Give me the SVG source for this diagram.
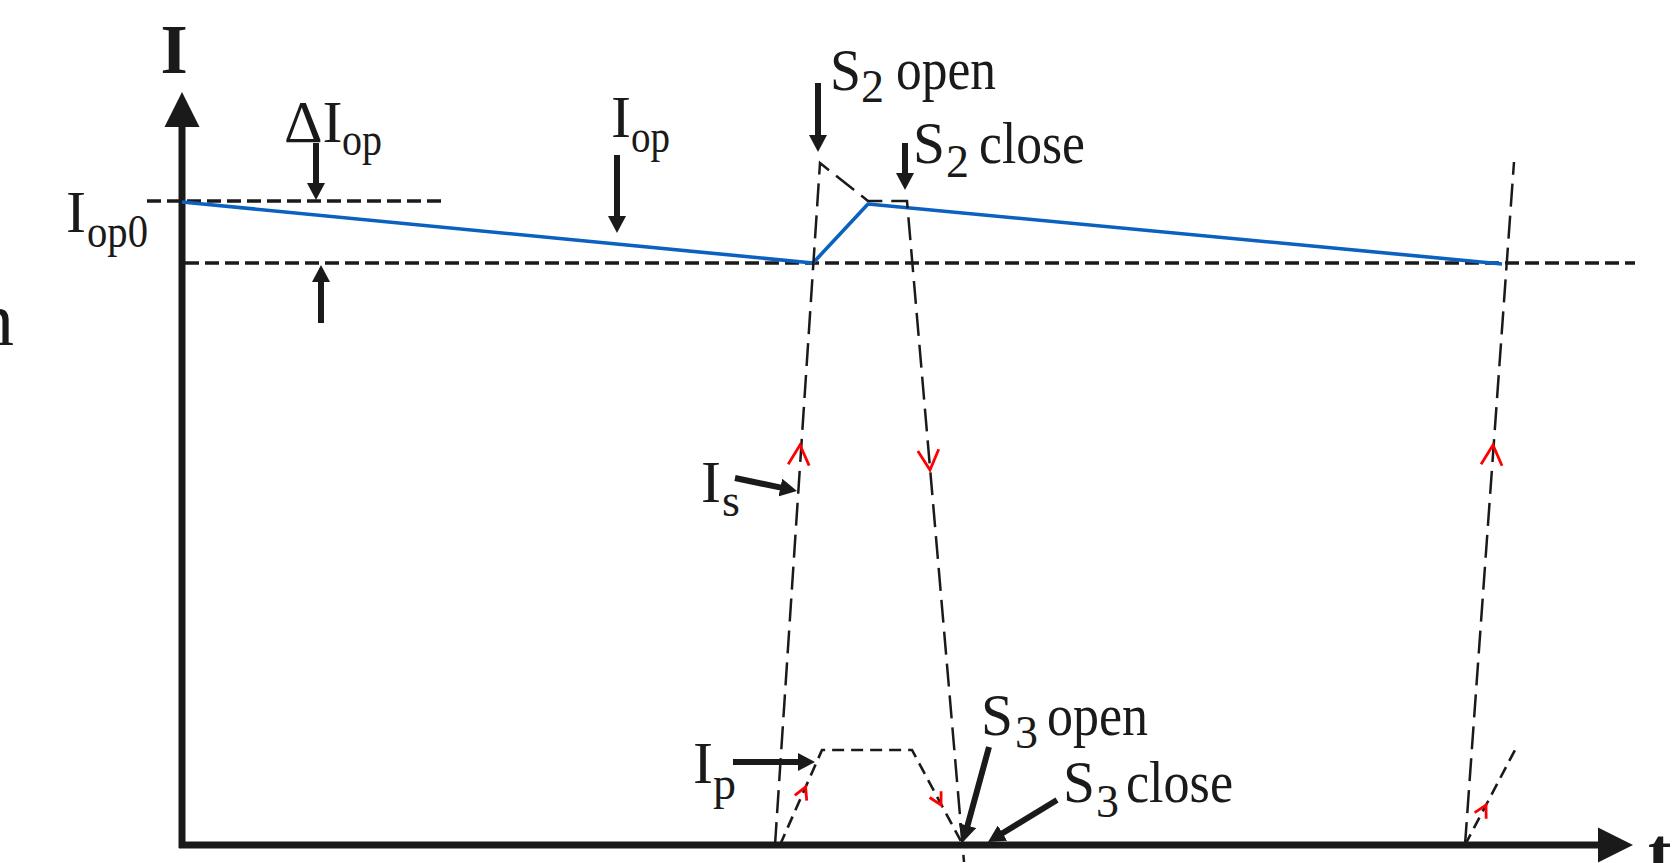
<svg xmlns="http://www.w3.org/2000/svg" width="1679" height="863" viewBox="0 0 1679 863">
<style>
.lbl{font-family:"Liberation Serif","Times New Roman",serif;font-size:60px;fill:#1a1a1a}
.sub{font-size:46px}
.bold{font-weight:bold;font-size:70px}
.axis{stroke:#1a1a1a;stroke-width:7;fill:none}
.dthick{stroke:#1a1a1a;stroke-width:3.3;stroke-dasharray:14 6;fill:none}
.dthin{stroke:#1a1a1a;stroke-width:2.5;stroke-dasharray:23 9;fill:none}
.dshort{stroke:#1a1a1a;stroke-width:2.6;stroke-dasharray:12 7;fill:none}
.blue{stroke:#0a61c0;stroke-width:3.6;fill:none;stroke-linejoin:round}
.ptr{stroke:#1a1a1a;stroke-width:6;fill:none;marker-end:url(#hd)}
.rbig{stroke:none;fill:none;marker-end:url(#rcb)}
.rsm{stroke:none;fill:none;marker-end:url(#rcs)}
</style>
<defs>
<marker id="hd" markerUnits="userSpaceOnUse" viewBox="0 0 17 18" markerWidth="17" markerHeight="18" refX="2" refY="9" orient="auto"><path d="M0,0 L17,9 L0,18 z" fill="#1a1a1a"/></marker>
<marker id="rcb" markerUnits="userSpaceOnUse" viewBox="-23 -13 26 26" markerWidth="26" markerHeight="26" refX="0" refY="0" orient="auto"><path d="M-20,-10.5 L0,0 L-20,10.5" stroke="#ff0000" stroke-width="2.8" fill="none"/></marker>
<marker id="rcs" markerUnits="userSpaceOnUse" viewBox="-15 -9 18 18" markerWidth="18" markerHeight="18" refX="0" refY="0" orient="auto"><path d="M-12,-6.5 L0,0 L-12,6.5" stroke="#ff0000" stroke-width="2.8" fill="none"/></marker>
</defs>
<rect width="1679" height="863" fill="#ffffff"/>

<g id="axes">
<line class="axis" x1="182" y1="848" x2="182" y2="120"/>
<polygon points="182,92 164.5,127 199.5,127" fill="#1a1a1a"/>
<line class="axis" x1="179" y1="845" x2="1605" y2="845"/>
<polygon points="1633,845 1598,827.5 1598,862.5" fill="#1a1a1a"/>
</g>

<g id="connectors">
<line class="dthick" x1="147" y1="201" x2="443" y2="201"/>
<line class="dthick" x1="185" y1="263" x2="1635" y2="263"/>
<path class="blue" d="M182,202 L813,263 L868,204 L1502,264"/>
<path class="dthin" d="M775,845 L820,163 L868,201 L907,201 L964,862"/>
<path class="dthin" d="M1465,845 L1514,162"/>
<path class="dshort" d="M780,845 L822,750 L912,750 L963,845"/>
<path class="dshort" d="M1465,845 L1515,750"/>
<path class="rbig" d="M798,475 L800,445"/>
<path class="rbig" d="M927.4,440 L930,470"/>
<path class="rbig" d="M1490.8,475 L1493,445"/>
<path class="rsm" d="M801.6,796.1 L805.6,787"/>
<path class="rsm" d="M936.3,796.2 L941,805"/>
<path class="rsm" d="M1481.3,813.9 L1486,805"/>
<path class="ptr" d="M316,143 L316,185"/>
<path class="ptr" d="M321,323 L321,280"/>
<path class="ptr" d="M617,155 L617,218"/>
<path class="ptr" d="M818,83 L818,137"/>
<path class="ptr" d="M905,143 L905,175"/>
<path class="ptr" d="M735,478 L782.3,487.9"/>
<path class="ptr" d="M733,762 L800,762"/>
<path class="ptr" d="M989,747 L967,827.5"/>
<path class="ptr" d="M1057,800 L1000.8,834.2"/>
</g>

<g id="label-I"><text class="lbl bold" x="174" y="73" text-anchor="middle">I</text></g>
<g id="label-t"><text class="lbl bold" x="1648" y="876">t</text></g>
<g id="label-n"><text class="lbl" x="14" y="345" text-anchor="end" style="font-size:76px">n</text></g>
<g id="label-dIop"><text class="lbl" x="284" y="142">ΔI</text><text class="lbl sub" x="342" y="155" textLength="40" lengthAdjust="spacingAndGlyphs">op</text></g>
<g id="label-Iop0"><text class="lbl" x="66" y="232">I</text><text class="lbl sub" x="87" y="247" textLength="61" lengthAdjust="spacingAndGlyphs">op0</text></g>
<g id="label-Iop"><text class="lbl" x="611" y="137">I</text><text class="lbl sub" x="631" y="152" textLength="39" lengthAdjust="spacingAndGlyphs">op</text></g>
<g id="label-S2open"><text class="lbl" x="830" y="90" textLength="31" lengthAdjust="spacingAndGlyphs">S</text><text class="lbl sub" x="861" y="102">2</text><text class="lbl" x="896" y="89" textLength="100" lengthAdjust="spacingAndGlyphs">open</text></g>
<g id="label-S2close"><text class="lbl" x="913" y="163" textLength="32" lengthAdjust="spacingAndGlyphs">S</text><text class="lbl sub" x="946" y="177">2</text><text class="lbl" x="979" y="163" textLength="106" lengthAdjust="spacingAndGlyphs">close</text></g>
<g id="label-Is"><text class="lbl" x="701" y="502">I</text><text class="lbl sub" x="722" y="516">s</text></g>
<g id="label-Ip"><text class="lbl" x="693" y="783">I</text><text class="lbl sub" x="713" y="799">p</text></g>
<g id="label-S3open"><text class="lbl" x="981" y="735" textLength="32" lengthAdjust="spacingAndGlyphs">S</text><text class="lbl sub" x="1015" y="748">3</text><text class="lbl" x="1047" y="735" textLength="101" lengthAdjust="spacingAndGlyphs">open</text></g>
<g id="label-S3close"><text class="lbl" x="1063" y="802" textLength="32" lengthAdjust="spacingAndGlyphs">S</text><text class="lbl sub" x="1096" y="817">3</text><text class="lbl" x="1126" y="802" textLength="107" lengthAdjust="spacingAndGlyphs">close</text></g>
</svg>
